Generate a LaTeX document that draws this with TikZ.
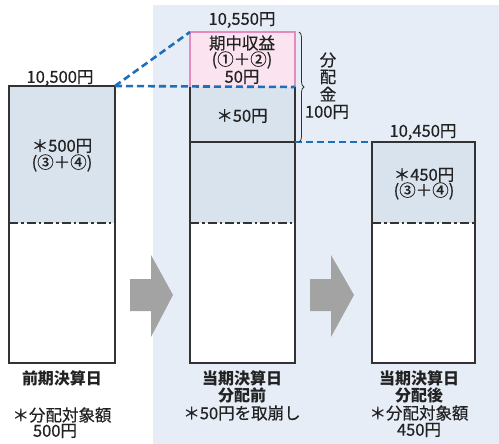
\documentclass[tikz,border=0pt]{standalone}
\usepackage{fontspec}
\setmainfont{Noto Sans CJK JP}
\newfontfamily\medfont{Noto Sans CJK JP}[FakeBold=0.5]
\usetikzlibrary{decorations.pathreplacing}
\definecolor{panel}{HTML}{E7EDF7}
\definecolor{boxfill}{HTML}{D9E3EE}
\definecolor{pinkfill}{HTML}{FBE4EF}
\definecolor{pinkline}{HTML}{E58BBE}
\definecolor{dashblue}{HTML}{1F6FB8}
\definecolor{arrowgray}{HTML}{A3A3A3}
\definecolor{edge}{HTML}{333333}
\definecolor{txt}{HTML}{222222}
\begin{document}
\begin{tikzpicture}[x=1pt,y=-1pt,
  lbl/.style={font=\medfont\fontsize{16.5}{18}\selectfont, text=txt, inner sep=0pt},
  blbl/.style={font=\fontsize{16}{18}\selectfont\bfseries, text=txt, inner sep=0pt},
  boxline/.style={draw=edge, line width=1.4pt},
  dashdot/.style={draw=edge, line width=1.8pt, dash pattern=on 9pt off 3pt on 2.5pt off 3pt},
  bluedash/.style={draw=dashblue, line width=2.6pt, dash pattern=on 7pt off 4pt},
  bigarrow/.style={fill=arrowgray}]
\useasboundingbox (0,0) rectangle (499,444);
\fill[panel] (153,5) rectangle (499,444);

% box 1
\coordinate (b1tl) at (9,86);
\coordinate (b1tr) at (115,86);
\fill[boxfill] (9,86) rectangle (115,223);
\fill[white] (9,223) rectangle (115,363);
\draw[dashdot] (9,223) -- (115,223);
\draw[boxline] (b1tl) rectangle (115,363);

% box 2
\coordinate (b2tl) at (190,32);
\coordinate (b2mr) at (295,87);
\coordinate (b2lr) at (295,142);
\fill[pinkfill] (190,32) rectangle (295,87);
\fill[boxfill] (190,87) rectangle (295,223);
\fill[white] (190,223) rectangle (295,363);
\draw[pinkline, line width=1.2pt] (190,87) -- (b2tl) -- (295,32) -- (295,87);
\draw[boxline] (190,87) -- (190,363) -- (295,363) -- (295,87);
\draw[boxline] (190,142) -- (b2lr);
\draw[dashdot] (190,223) -- (295,223);

% box 3
\coordinate (b3tl) at (372,142);
\fill[boxfill] (372,142) rectangle (475,223);
\fill[white] (372,223) rectangle (475,363);
\draw[dashdot] (372,223) -- (475,223);
\draw[boxline] (b3tl) rectangle (475,363);

% blue dashed connectors
\draw[bluedash] (b1tr) -- (b2tl);
\draw[bluedash] (b1tr) -- (b2mr);
\draw[bluedash] (b2lr) -- (b3tl);

% brace
\draw[edge, line width=0.8pt, decoration={brace, amplitude=5pt}, decorate] (299,32) -- (299,142);

% arrows
\fill[bigarrow] (130,279) -- (151,279) -- (151,255) -- (173,295) -- (151,337) -- (151,311) -- (130,311) -- cycle;
\fill[bigarrow] (310,279) -- (331,279) -- (331,255) -- (354,295) -- (331,337) -- (331,311) -- (310,311) -- cycle;

% texts
\node[lbl] (t1) at (60,78) {10,500円};
\node[lbl] (t2) at (242,20) {10,550円};
\node[lbl] (t3) at (423,132) {10,450円};

\node[lbl] (a1) at (62,146) {＊500円};
\node[lbl] (a2) at (62,163) {(③＋④)};

\node[lbl] (c1) at (242,43) {期中収益};
\node[lbl] (c2) at (242,60) {(①＋②)};
\node[lbl] (c3) at (242,77) {50円};
\node[lbl] (c4) at (242,116) {＊50円};

\node[lbl] (d1) at (328,60) {分};
\node[lbl] (d2) at (328,77) {配};
\node[lbl] (d3) at (328,94) {金};
\node[lbl] (d4) at (327,112) {100円};

\node[lbl] (e1) at (424,175) {＊450円};
\node[lbl] (e2) at (424,191) {(③＋④)};

\node[blbl] (f1) at (62,378) {前期決算日};
\node[lbl] (f2) at (62,415) {＊分配対象額};
\node[lbl] (f3) at (55,431) {500円};

\node[blbl] (g1) at (242,378) {当期決算日};
\node[blbl] (g2) at (242,395) {分配前};
\node[lbl] (g3) at (242,413) {＊50円を取崩し};

\node[blbl] (h1) at (419,378) {当期決算日};
\node[blbl] (h2) at (419,395) {分配後};
\node[lbl] (h3) at (419,413) {＊分配対象額};
\node[lbl] (h4) at (419,430) {450円};
\end{tikzpicture}
\end{document}
